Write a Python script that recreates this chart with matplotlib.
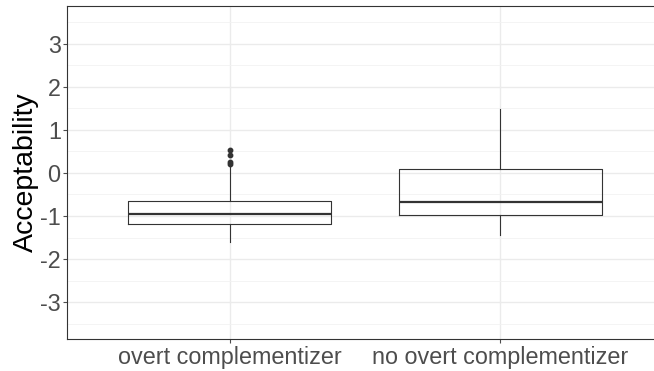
import matplotlib
matplotlib.use('Agg')
import matplotlib.pyplot as plt

plt.rcParams['font.family'] = ['Liberation Sans', 'DejaVu Sans']
plt.rcParams['axes.unicode_minus'] = False

# 各组箱线图统计量
categories = ['overt complementizer', 'no overt complementizer']
q1 = [-1.18, -0.97]
medians = [-0.96, -0.68]
q3 = [-0.65, 0.10]
whisker_low = [-1.61, -1.45]
whisker_high = [0.15, 1.49]
outliers = [[0.20, 0.26, 0.41, 0.53], []]
yticks = [-3, -2, -1, 0, 1, 2, 3]

stats = []
for i, name in enumerate(categories):
    stats.append({
        'label': name,
        'q1': q1[i], 'med': medians[i], 'q3': q3[i],
        'whislo': whisker_low[i], 'whishi': whisker_high[i],
        'fliers': outliers[i],
    })

fig = plt.figure(figsize=(6.54, 3.71), dpi=100)
W, H = 654, 371
ax = fig.add_axes([67 / W, (H - 339) / H, (663 - 67) / W, (339 - 6) / H])

dark = '#333333'
ax.bxp(stats, positions=[1, 2], widths=0.75, showcaps=False,
       boxprops=dict(color=dark, linewidth=0.8),
       medianprops=dict(color=dark, linewidth=1.6),
       whiskerprops=dict(color=dark, linewidth=0.8),
       flierprops=dict(marker='o', markersize=3.2, markerfacecolor=dark,
                       markeredgecolor=dark))

ax.set_xlim(0.4, 2.6)
ax.set_ylim(-3.85, 3.87)
ax.set_yticks(yticks)
ax.set_yticks([-3.5, -2.5, -1.5, -0.5, 0.5, 1.5, 2.5, 3.5], minor=True)
ax.set_xticks([1, 2])
ax.set_xticklabels(categories)

ax.grid(True, which='major', color='#EBEBEB', linewidth=1.0)
ax.grid(True, which='minor', axis='y', color='#F2F2F2', linewidth=0.6)
ax.set_axisbelow(True)

ax.tick_params(axis='both', which='major', colors='#4D4D4D',
               length=3, width=0.8, labelsize=16.8)
ax.tick_params(axis='y', pad=1.5)
ax.tick_params(axis='x', pad=2)
ax.tick_params(axis='y', which='minor', length=0)
for s in ax.spines.values():
    s.set_color(dark)
    s.set_linewidth(0.8)

ax.set_ylabel('Acceptability', fontsize=20.5, color='black', labelpad=0.5)

fig.savefig('out.png', dpi=100)
